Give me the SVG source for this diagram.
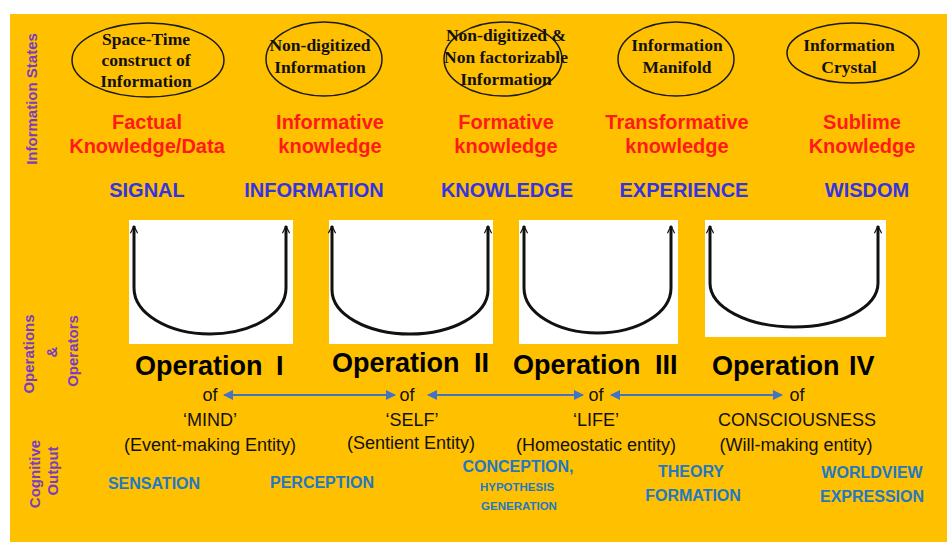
<svg xmlns="http://www.w3.org/2000/svg" width="947" height="542" viewBox="0 0 947 542">
<defs>
<style>
.ell{fill:none;stroke:#1a1a1a;stroke-width:1.5}
.et{font-family:"Liberation Serif",serif;font-weight:bold;font-size:17.5px;fill:#111;text-anchor:middle}
.red{font-family:"Comic Sans MS","Liberation Sans",sans-serif;font-weight:bold;font-size:20px;fill:#ff1a1a;text-anchor:middle}
.cap{font-family:"Liberation Sans",Arial,sans-serif;font-weight:bold;font-size:20px;fill:#3434e0;text-anchor:middle}
.side{font-family:"Liberation Sans",Arial,sans-serif;font-weight:bold;font-size:15px;fill:#7a3cc0;text-anchor:middle}
.box{fill:#fff}
.u{fill:none;stroke:#111;stroke-width:3;marker-start:url(#chev);marker-end:url(#chev)}
.op{font-family:"Liberation Sans",Arial,sans-serif;font-weight:bold;font-size:27px;fill:#000}
.txt{font-family:"Liberation Sans",Arial,sans-serif;font-size:18px;fill:#111;text-anchor:middle}
.cog{font-family:"Liberation Sans",Arial,sans-serif;font-weight:bold;font-size:16px;fill:#2378c4;text-anchor:middle}
.cogs{font-family:"Liberation Sans",Arial,sans-serif;font-weight:bold;font-size:11.5px;fill:#2378c4;text-anchor:middle}
.conn{fill:none;stroke:#4472c4;stroke-width:2;marker-start:url(#bl);marker-end:url(#bl)}
</style>
<marker id="chev" viewBox="0 0 10 10" refX="9" refY="5" markerWidth="9" markerHeight="9" markerUnits="userSpaceOnUse" orient="auto-start-reverse">
<path d="M1,1 L9,5 L1,9" fill="none" stroke="#111" stroke-width="1.3"/>
</marker>
<marker id="bl" viewBox="0 0 10 10" refX="9" refY="5" markerWidth="10" markerHeight="10" markerUnits="userSpaceOnUse" orient="auto-start-reverse">
<path d="M0,0 L10,5 L0,10 Z" fill="#4472c4"/>
</marker>
</defs>
<rect x="0" y="0" width="947" height="542" fill="#fff"/>
<rect x="10" y="14" width="937" height="528" fill="#ffc000"/>

<g id="side-labels">
<text class="side" transform="translate(37,99) rotate(-90)">Information States</text>
<text class="side" transform="translate(34,354) rotate(-90)">Operations</text>
<text class="side" transform="translate(57,352) rotate(-90)">&amp;</text>
<text class="side" transform="translate(78,351) rotate(-90)">Operators</text>
<text class="side" transform="translate(40,474) rotate(-90)">Cognitive</text>
<text class="side" transform="translate(58,471) rotate(-90)">Output</text>
</g>

<g id="state1">
<ellipse class="ell" cx="148" cy="60" rx="76" ry="37"/>
<text class="et" x="146" y="45">Space-Time</text>
<text class="et" x="146" y="66">construct of</text>
<text class="et" x="146" y="87">Information</text>
<text class="red" x="147" y="129">Factual</text>
<text class="red" x="147" y="153">Knowledge/Data</text>
<text class="cap" x="147" y="197">SIGNAL</text>
</g>
<g id="state2">
<ellipse class="ell" cx="324" cy="59" rx="58" ry="37"/>
<text class="et" x="320" y="51">Non-digitized</text>
<text class="et" x="320" y="73">Information</text>
<text class="red" x="330" y="129">Informative</text>
<text class="red" x="330" y="153">knowledge</text>
<text class="cap" x="314" y="197">INFORMATION</text>
</g>
<g id="state3">
<ellipse class="ell" cx="503" cy="59" rx="59" ry="37"/>
<text class="et" x="506" y="41">Non-digitized &amp;</text>
<text class="et" x="506" y="63">Non factorizable</text>
<text class="et" x="506" y="85">Information</text>
<text class="red" x="506" y="129">Formative</text>
<text class="red" x="506" y="153">knowledge</text>
<text class="cap" x="507" y="197">KNOWLEDGE</text>
</g>
<g id="state4">
<ellipse class="ell" cx="676" cy="59" rx="58" ry="37"/>
<text class="et" x="677" y="51">Information</text>
<text class="et" x="677" y="73">Manifold</text>
<text class="red" x="677" y="129">Transformative</text>
<text class="red" x="677" y="153">knowledge</text>
<text class="cap" x="684" y="197">EXPERIENCE</text>
</g>
<g id="state5">
<ellipse class="ell" cx="853" cy="53" rx="66" ry="30"/>
<text class="et" x="849" y="51">Information</text>
<text class="et" x="849" y="73">Crystal</text>
<text class="red" x="862" y="129">Sublime</text>
<text class="red" x="862" y="153">Knowledge</text>
<text class="cap" x="867" y="197">WISDOM</text>
</g>

<g id="op1">
<rect class="box" x="129" y="220" width="164" height="124"/>
<path class="u" d="M134,226 L134,288 A76,46 0 0 0 286,288 L286,226"/>
<text class="op" x="135" y="375">Operation <tspan x="276">I</tspan></text>
<text class="txt" x="210" y="401">of</text>
<text class="txt" x="210" y="426">‘MIND’</text>
<text class="txt" x="210" y="451">(Event-making Entity)</text>
<text class="cog" x="154" y="489">SENSATION</text>
</g>
<g id="op2">
<rect class="box" x="329" y="220" width="164" height="124"/>
<path class="u" d="M332,226 L332,290 A78,44 0 0 0 488,290 L488,226"/>
<text class="op" x="332" y="372">Operation <tspan x="474">II</tspan></text>
<text class="txt" x="407" y="401">of</text>
<text class="txt" x="412" y="426">‘SELF’</text>
<text class="txt" x="411" y="449">(Sentient Entity)</text>
<text class="cog" x="322" y="488">PERCEPTION</text>
</g>
<g id="op3">
<rect class="box" x="519" y="220" width="159" height="124"/>
<path class="u" d="M524,226 L524,288 A73.5,45 0 0 0 671,288 L671,226"/>
<text class="op" x="513" y="374">Operation <tspan x="655">III</tspan></text>
<text class="txt" x="596" y="401">of</text>
<text class="txt" x="596" y="426">‘LIFE’</text>
<text class="txt" x="596" y="451">(Homeostatic entity)</text>
<text class="cog" x="518" y="472">CONCEPTION,</text>
<text class="cogs" x="517" y="491">HYPOTHESIS</text>
<text class="cogs" x="519" y="510">GENERATION</text>
</g>
<g id="op4">
<rect class="box" x="705" y="220" width="181" height="117"/>
<path class="u" d="M710,226 L710,283 A84,44 0 0 0 878,283 L878,226"/>
<text class="op" x="712" y="375">Operation <tspan x="849">IV</tspan></text>
<text class="txt" x="797" y="401">of</text>
<text class="txt" x="797" y="426">CONSCIOUSNESS</text>
<text class="txt" x="796" y="451">(Will-making entity)</text>
<text class="cog" x="691" y="477">THEORY</text>
<text class="cog" x="693" y="501">FORMATION</text>
<text class="cog" x="872" y="478">WORLDVIEW</text>
<text class="cog" x="872" y="502">EXPRESSION</text>
</g>

<g id="connectors">
<path class="conn" d="M224,395 L395,395"/>
<path class="conn" d="M428,395 L583,395"/>
<path class="conn" d="M611,395 L782,395"/>
</g>
</svg>
